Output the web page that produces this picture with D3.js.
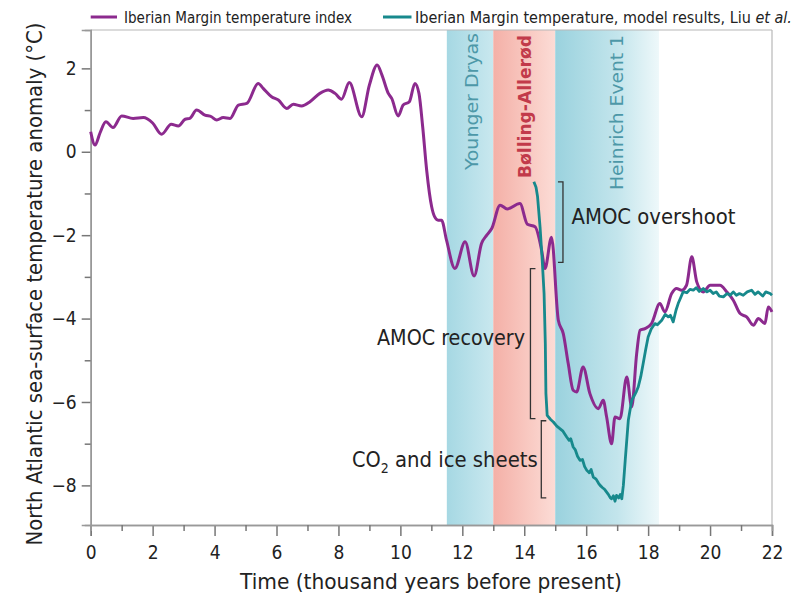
<!DOCTYPE html>
<html><head><meta charset="utf-8">
<script src="https://cdn.jsdelivr.net/npm/d3@7"></script>
<style>
html,body{margin:0;padding:0;background:#fff;}
svg{display:block;}
text{font-family:"Liberation Sans Narrow","DejaVu Sans Condensed","Roboto Condensed","Open Sans",sans-serif;fill:#222;}
</style></head>
<body>
<script>
// ---- data ----
const purpleT = [0.00,0.14,0.30,0.49,0.72,1.00,1.37,1.70,2.00,2.29,2.60,2.83,3.05,3.20,3.42,3.69,3.90,4.07,4.28,4.50,4.77,5.04,5.41,5.57,5.84,6.06,6.33,6.54,6.81,7.08,7.40,7.67,7.89,8.10,8.35,8.75,9.00,9.25,9.40,9.61,9.72,9.93,10.09,10.29,10.47,10.60,10.72,10.85,11.01,11.10,11.22,11.33,11.49,11.76,12.09,12.38,12.62,12.79,12.95,13.22,13.45,13.86,14.10,14.35,14.56,14.67,14.88,15.10,15.26,15.42,15.58,15.69,15.90,16.12,16.39,16.55,16.66,16.82,16.93,17.09,17.31,17.47,17.63,17.74,17.90,18.11,18.38,18.54,18.76,18.92,19.08,19.24,19.41,19.57,19.78,20.00,20.32,20.54,20.75,20.97,21.18,21.40,21.56,21.77,21.88,22.00];
const purpleV = [0.48,0.16,0.45,0.72,0.58,0.86,0.80,0.82,0.69,0.42,0.66,0.62,0.78,0.80,1.00,0.88,0.84,0.76,0.82,0.80,1.12,1.16,1.64,1.52,1.32,1.24,1.04,1.14,1.10,1.20,1.40,1.48,1.40,1.26,1.66,0.84,1.60,2.08,1.85,1.40,1.28,0.86,1.12,1.20,1.64,1.40,0.60,-0.45,-1.32,-1.55,-1.64,-1.64,-2.12,-2.80,-2.16,-2.98,-2.20,-2.00,-1.84,-1.28,-1.37,-1.24,-1.74,-1.80,-2.36,-2.80,-2.05,-4.04,-4.36,-5.08,-5.72,-5.76,-5.16,-5.80,-6.16,-5.96,-6.36,-7.00,-6.36,-6.40,-5.40,-6.12,-4.84,-4.28,-4.24,-4.12,-3.64,-3.84,-3.40,-3.28,-3.32,-3.20,-2.52,-3.12,-3.36,-3.20,-3.20,-3.36,-3.56,-3.88,-3.96,-4.16,-4.00,-4.12,-3.72,-3.84];

const tealT = [14.31,14.38,14.43,14.51,14.58,14.64,14.68,14.70,14.74,14.85,14.94,15.05,15.15,15.25,15.37,15.45,15.50,15.58,15.65,15.72,15.80,15.88,15.95,16.02,16.10,16.16,16.23,16.32,16.40,16.45,16.52,16.60,16.66,16.72,16.78,16.82,16.88,16.93,16.98,17.05,17.10,17.15,17.20,17.26,17.36,17.47,17.55,17.62,17.68,17.76,17.84,17.92,18.00,18.10,18.22,18.30,18.44,18.55,18.65,18.72,18.81,18.90,18.97,19.05,19.13,19.25,19.35,19.46,19.55,19.65,19.78,19.90,20.00,20.10,20.20,20.30,20.43,20.55,20.65,20.75,20.85,20.95,21.07,21.20,21.34,21.45,21.55,21.61,21.70,21.80,21.94,22.00];
const tealV = [-0.72,-0.85,-1.08,-1.80,-2.60,-3.40,-4.60,-5.80,-6.32,-6.42,-6.48,-6.58,-6.64,-6.70,-6.84,-6.92,-6.88,-7.08,-7.15,-7.30,-7.40,-7.38,-7.55,-7.64,-7.70,-7.62,-7.80,-7.85,-7.95,-8.00,-8.05,-8.10,-8.16,-8.22,-8.30,-8.32,-8.25,-8.38,-8.24,-8.30,-8.22,-8.32,-8.00,-7.40,-6.44,-5.96,-5.85,-5.75,-5.64,-5.40,-5.08,-4.75,-4.44,-4.25,-4.12,-4.15,-4.04,-3.90,-3.96,-3.92,-4.08,-3.80,-3.64,-3.50,-3.36,-3.38,-3.30,-3.32,-3.26,-3.35,-3.28,-3.36,-3.32,-3.40,-3.36,-3.46,-3.48,-3.40,-3.44,-3.36,-3.44,-3.40,-3.44,-3.36,-3.32,-3.42,-3.36,-3.40,-3.46,-3.36,-3.40,-3.44];

const bandNames = ["Younger Dryas","Bølling-Allerød","Heinrich Event 1"];
const bandStart = [11.5, 13.0, 15.0];
const bandEnd = [13.0, 15.0, 18.35];

const xMajorTicks = [0,2,4,6,8,10,12,14,16,18,20,22];
const yMajorTicks = [2,0,-2,-4,-6,-8];

const legendLabels = ["Iberian Margin temperature index","Iberian Margin temperature, model results, Liu "];

// annotation brackets
const annoLabels = ["AMOC overshoot","AMOC recovery","and ice sheets"];
const annoTop = [-0.72, -2.8, -6.45];
const annoBottom = [-2.65, -6.4, -8.3];
const annoX = [15.25, 14.2, 14.55];

// ---- drawing ----
const W = 795, H = 599;
const svg = d3.select("body").append("svg").attr("width", W).attr("height", H);
const x = d3.scaleLinear().domain([0, 22]).range([90.7, 772]);
const y = d3.scaleLinear().domain([-8.95, 2.92]).range([525, 30]);
const yTop = y(2.92), yBot = y(-8.95);

const defs = svg.append("defs");
const gradStops = [
  [["0%","#a6d8e3"],["100%","#c9e8ef"]],
  [["0%","#f4b0a7"],["100%","#fcdcd6"]],
  [["0%","#9ad2de"],["60%","#c3e5ec"],["100%","#eef8fa"]]
];
gradStops.forEach((st, i) => {
  const g = defs.append("linearGradient").attr("id", "bg" + i).attr("x1", "0%").attr("x2", "100%");
  st.forEach(s => g.append("stop").attr("offset", s[0]).attr("stop-color", s[1]));
});

// bands
svg.append("g").selectAll("rect").data(bandNames).join("rect")
  .attr("x", (d, i) => x(bandStart[i]))
  .attr("width", (d, i) => x(bandEnd[i]) - x(bandStart[i]))
  .attr("y", yTop).attr("height", yBot - yTop)
  .attr("fill", (d, i) => `url(#bg${i})`);

// band labels (vertical)
const bandLabelX = [471.5, 525, 617];
const bandLabelBottom = [170, 178, 190];
const bandLabelLen = [137, 143, 155];
const bandLabelColor = ["#4d98a8", "#c23a4a", "#4d98a8"];
svg.append("g").selectAll("text").data(bandNames).join("text")
  .attr("transform", (d, i) => `translate(${bandLabelX[i] + 6},${bandLabelBottom[i]}) rotate(-90)`)
  .attr("font-size", 18)
  .attr("font-weight", (d, i) => i === 1 ? "bold" : "normal")
  .attr("textLength", (d, i) => bandLabelLen[i])
  .attr("lengthAdjust", "spacingAndGlyphs")
  .style("fill", (d, i) => bandLabelColor[i])
  .text(d => d);

// frame (top & right light)
svg.append("line").attr("x1", x(0)).attr("x2", x(22)).attr("y1", yTop).attr("y2", yTop).attr("stroke", "#b8b8b8").attr("stroke-width", 1.2);
svg.append("line").attr("x1", x(22)).attr("x2", x(22)).attr("y1", yTop).attr("y2", yBot).attr("stroke", "#b8b8b8").attr("stroke-width", 1.2);

// axes
const xAxisMajor = d3.axisBottom(x).tickValues(xMajorTicks).tickSize(11).tickFormat(d3.format("d"));
const xAxisMinor = d3.axisBottom(x).tickValues(d3.range(1, 22, 2)).tickSize(6).tickFormat("");
const gx = svg.append("g").attr("transform", `translate(0,${yBot})`).call(xAxisMajor);
const gx2 = svg.append("g").attr("transform", `translate(0,${yBot})`).call(xAxisMinor);
[gx, gx2].forEach(g => {
  g.select(".domain").attr("stroke", "#999").attr("stroke-width", 1.5);
  g.selectAll(".tick line").attr("stroke", "#777").attr("stroke-width", 1.5);
});
gx.selectAll(".tick text").attr("font-size", 19).attr("dy", "0.95em").attr("y", 16).style("fill", "#222")
  .attr("font-family", "'Liberation Sans Narrow','DejaVu Sans Condensed',sans-serif");

const fmtY = d => d < 0 ? "\u2212" + Math.abs(d) : String(d);
const yAxisMajor = d3.axisLeft(y).tickValues(yMajorTicks).tickSize(9).tickFormat(fmtY);
const yAxisMinor = d3.axisLeft(y).tickValues([1,-1,-3,-5,-7]).tickSize(6).tickFormat("");
const gy = svg.append("g").attr("transform", `translate(${x(0)},0)`).call(yAxisMajor);
const gy2 = svg.append("g").attr("transform", `translate(${x(0)},0)`).call(yAxisMinor);
[gy, gy2].forEach(g => {
  g.select(".domain").attr("stroke", "#999").attr("stroke-width", 1.5);
  g.selectAll(".tick line").attr("stroke", "#777").attr("stroke-width", 1.5);
});
gy.selectAll(".tick text").attr("font-size", 19).attr("x", -14).style("fill", "#222")
  .attr("font-family", "'Liberation Sans Narrow','DejaVu Sans Condensed',sans-serif");

// axis titles
svg.append("text").attr("x", 431).attr("y", 589).attr("text-anchor", "middle")
  .attr("font-size", 21).attr("textLength", 382).attr("lengthAdjust", "spacingAndGlyphs")
  .text("Time (thousand years before present)");
svg.append("text").attr("transform", "translate(42,284) rotate(-90)").attr("text-anchor", "middle")
  .attr("font-size", 21).attr("textLength", 523).attr("lengthAdjust", "spacingAndGlyphs")
  .text("North Atlantic sea-surface temperature anomaly (\u00B0C)");

// lines
const purpleData = purpleT.map((t, i) => [t, purpleV[i]]);
const tealData = tealT.map((t, i) => [t, tealV[i]]);
svg.append("path").datum(purpleData)
  .attr("d", d3.line().x(d => x(d[0])).y(d => y(d[1])).curve(d3.curveMonotoneX))
  .attr("fill", "none").attr("stroke", "#8c2a8e").attr("stroke-width", 3).attr("stroke-linejoin", "round");
svg.append("path").datum(tealData)
  .attr("d", d3.line().x(d => x(d[0])).y(d => y(d[1])))
  .attr("fill", "none").attr("stroke", "#17898c").attr("stroke-width", 2.8).attr("stroke-linejoin", "round");

// brackets
const bk = svg.append("g").attr("stroke", "#333").attr("stroke-width", 1.3).attr("fill", "none");
annoLabels.forEach((lab, i) => {
  const xx = x(annoX[i]);
  const dir = i === 0 ? -1 : 1;
  const y1 = y(annoTop[i]), y2 = y(annoBottom[i]);
  bk.append("path").attr("d", `M${xx + dir * 5},${y1}H${xx}V${y2}H${xx + dir * 5}`);
});
// annotation text
svg.append("text").attr("x", 571.5).attr("y", 224).attr("font-size", 21)
  .attr("textLength", 164).attr("lengthAdjust", "spacingAndGlyphs").text(annoLabels[0]);
svg.append("text").attr("x", 525).attr("y", 345).attr("text-anchor", "end").attr("font-size", 21)
  .attr("textLength", 148).attr("lengthAdjust", "spacingAndGlyphs").text(annoLabels[1]);
const co2 = svg.append("text").attr("x", 352).attr("y", 467).attr("font-size", 21.5);
co2.append("tspan").text("CO");
co2.append("tspan").attr("font-size", 14).attr("dy", 6).text("2");
co2.append("tspan").attr("dy", -6).attr("textLength", 149).attr("lengthAdjust", "spacingAndGlyphs").text(" " + annoLabels[2]);

// legend
const lg = svg.append("g");
lg.append("line").attr("x1", 90.7).attr("x2", 117).attr("y1", 17).attr("y2", 17).attr("stroke", "#8c2a8e").attr("stroke-width", 3);
lg.append("text").attr("x", 124).attr("y", 22.5).attr("font-size", 16)
  .attr("textLength", 228).attr("lengthAdjust", "spacingAndGlyphs").text(legendLabels[0]);
lg.append("line").attr("x1", 383).attr("x2", 411.5).attr("y1", 17).attr("y2", 17).attr("stroke", "#17898c").attr("stroke-width", 3);
const lt = lg.append("text").attr("x", 415).attr("y", 22.5).attr("font-size", 16);
lt.append("tspan").text(legendLabels[1]);
lt.append("tspan").attr("font-style", "italic").text("et al.");
</script>
</body></html>
